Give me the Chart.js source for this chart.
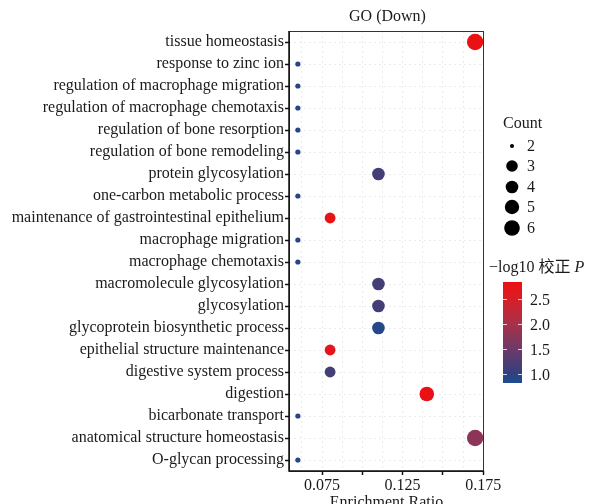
<!DOCTYPE html>
<html>
<head>
<meta charset="utf-8">
<script src="https://cdn.jsdelivr.net/npm/chart.js@4/dist/chart.umd.min.js"></script>
<style>
  html, body { margin: 0; padding: 0; background: #fff; overflow: hidden; }
  #wrap { width: 589px; height: 512px; }
</style>
</head>
<body>
<div id="wrap"><canvas id="goChart" width="589" height="512"></canvas></div>
<script>
// GO terms, top to bottom
const terms = [
  'tissue homeostasis',
  'response to zinc ion',
  'regulation of macrophage migration',
  'regulation of macrophage chemotaxis',
  'regulation of bone resorption',
  'regulation of bone remodeling',
  'protein glycosylation',
  'one-carbon metabolic process',
  'maintenance of gastrointestinal epithelium',
  'macrophage migration',
  'macrophage chemotaxis',
  'macromolecule glycosylation',
  'glycosylation',
  'glycoprotein biosynthetic process',
  'epithelial structure maintenance',
  'digestive system process',
  'digestion',
  'bicarbonate transport',
  'anatomical structure homeostasis',
  'O-glycan processing'
];
const ratios = [0.170, 0.060, 0.060, 0.060, 0.060, 0.060, 0.110, 0.060, 0.080, 0.060,
                0.060, 0.110, 0.110, 0.110, 0.080, 0.080, 0.140, 0.060, 0.170, 0.060];
const counts = [6, 2, 2, 2, 2, 2, 4, 2, 3, 2, 2, 4, 4, 4, 3, 3, 5, 2, 6, 2];
const logP = [2.80, 0.92, 0.92, 0.92, 0.92, 0.92, 1.15, 0.92, 2.75, 0.92,
              0.92, 1.15, 1.15, 0.88, 2.70, 1.15, 2.80, 0.92, 1.75, 0.90];

const xTicks = [0.075, 0.100, 0.125, 0.150, 0.175];
const xLabeled = [0.075, 0.125, 0.175];
const countLevels = [2, 3, 4, 5, 6];
const colorTicks = [1.0, 1.5, 2.0, 2.5];

// styling
const serif = '"Liberation Serif", "DejaVu Serif", "Noto Sans CJK SC", serif';
const textColor = '#1a1a1a';
const fs = 16;
const sizeFor = c => ({2: 2.6, 3: 5.4, 4: 6.3, 5: 7.3, 6: 8.2})[c];
const legendSize = c => ({2: 2.0, 3: 5.8, 4: 6.3, 5: 7.2, 6: 7.8})[c];
const cMin = 0.81, cMax = 2.83;
const stops = [
  [0.81, [29, 76, 143]],
  [1.0, [50, 64, 126]],
  [1.5, [110, 58, 104]],
  [2.0, [170, 48, 72]],
  [2.5, [215, 30, 40]],
  [2.83, [236, 16, 18]]
];
function colorFor(v) {
  v = Math.max(cMin, Math.min(cMax, v));
  for (let i = 1; i < stops.length; i++) {
    if (v <= stops[i][0]) {
      const a = stops[i - 1], b = stops[i];
      const t = (v - a[0]) / (b[0] - a[0]);
      const c = a[1].map((x, k) => Math.round(x + (b[1][k] - x) * t));
      return `rgb(${c[0]},${c[1]},${c[2]})`;
    }
  }
  return 'rgb(236,16,18)';
}

const points = terms.map((t, i) => ({ x: ratios[i], y: t, r: sizeFor(counts[i]) }));

// title, legends, panel border
const extras = {
  id: 'extras',
  afterDatasetsDraw(chart) {
    const ctx = chart.ctx;
    const a = chart.chartArea;
    ctx.save();
    ctx.strokeStyle = '#333';
    ctx.lineWidth = 1;
    ctx.strokeRect(a.left + 0.5, a.top + 0.5, a.right - a.left - 1, a.bottom - a.top);
    ctx.strokeStyle = '#111';
    ctx.lineWidth = 1.5;
    ctx.beginPath();
    ctx.moveTo(a.left, a.top);
    ctx.lineTo(a.left, a.bottom);
    ctx.lineTo(a.right, a.bottom);
    ctx.stroke();
    ctx.restore();
  },
  afterDraw(chart) {
    const ctx = chart.ctx;
    const a = chart.chartArea;
    ctx.save();
    ctx.fillStyle = textColor;
    ctx.font = fs + 'px ' + serif;
    ctx.textBaseline = 'middle';
    ctx.textAlign = 'center';
    ctx.fillText('GO (Down)', (a.left + a.right) / 2 + 1, 17);

    ctx.textAlign = 'left';
    ctx.fillText('Count', 503, 124);
    const ys = [146, 166, 187, 207, 228];
    countLevels.forEach((c, i) => {
      ctx.fillStyle = '#000';
      ctx.beginPath();
      ctx.arc(512, ys[i], legendSize(c), 0, Math.PI * 2);
      ctx.fill();
      ctx.fillStyle = textColor;
      ctx.fillText(String(c), 527, ys[i] + 1);
    });

    // colour bar
    const lead = '\u2212log10 \u6821\u6b63 ';
    ctx.fillText(lead, 489, 268);
    const w = ctx.measureText(lead).width;
    ctx.font = 'italic ' + fs + 'px ' + serif;
    ctx.fillText('P', 489 + w, 268);

    const bx = 503, bw = 19, top = 282, bot = 383;
    const yOf = v => bot - (v - cMin) / (cMax - cMin) * (bot - top);
    for (let y = top; y < bot; y++) {
      const v = cMax - (y - top + 0.5) / (bot - top) * (cMax - cMin);
      ctx.fillStyle = colorFor(v);
      ctx.fillRect(bx, y, bw, 1);
    }
    ctx.strokeStyle = 'rgba(255,255,255,0.8)';
    ctx.lineWidth = 1;
    ctx.font = fs + 'px ' + serif;
    colorTicks.forEach(v => {
      const y = Math.round(yOf(v)) + 0.5;
      ctx.beginPath();
      ctx.moveTo(bx, y); ctx.lineTo(bx + 4, y);
      ctx.moveTo(bx + bw - 4, y); ctx.lineTo(bx + bw, y);
      ctx.stroke();
      ctx.fillStyle = textColor;
      ctx.fillText(v.toFixed(1), 530, y + 1);
    });
    ctx.restore();
  }
};

new Chart(document.getElementById('goChart').getContext('2d'), {
  type: 'bubble',
  data: {
    datasets: [{
      data: points,
      backgroundColor: logP.map(colorFor),
      borderColor: logP.map(colorFor),
      borderWidth: 0,
      hoverRadius: 0
    }]
  },
  options: {
    responsive: false,
    animation: false,
    events: [],
    layout: { padding: { left: 0, right: 105, top: 31, bottom: 0 } },
    plugins: {
      legend: { display: false },
      tooltip: { enabled: false },
      title: { display: false }
    },
    scales: {
      x: {
        type: 'linear',
        min: 0.0545,
        max: 0.1755,
        afterBuildTicks: s => {
          s.ticks = [];
          for (let v = 0.0625; v <= 0.1751; v += 0.0125) s.ticks.push({ value: +v.toFixed(4) });
        },
        afterFit: s => { s.height = 41; },
        ticks: {
          color: textColor,
          font: { family: serif, size: fs },
          padding: 1,
          maxRotation: 0,
          autoSkip: false,
          callback: v => xLabeled.some(t => Math.abs(t - v) < 1e-6) ? v.toFixed(3) : ''
        },
        grid: {
          color: 'rgba(0,0,0,0.08)',
          tickLength: 4,
          tickColor: c => xTicks.some(t => Math.abs(t - c.tick.value) < 1e-6) ? '#111' : 'rgba(0,0,0,0)',
          tickWidth: 1.5
        },
        border: { display: false, dash: [2, 3] },
        title: {
          display: true,
          text: 'Enrichment Ratio',
          color: textColor,
          font: { family: serif, size: fs },
          padding: { top: 0, bottom: 0 }
        }
      },
      y: {
        type: 'category',
        labels: terms,
        offset: true,
        afterFit: s => { s.width = 289; },
        ticks: {
          color: textColor,
          font: { family: serif, size: fs },
          padding: 1,
          autoSkip: false
        },
        grid: {
          color: 'rgba(0,0,0,0.08)',
          tickLength: 4,
          tickColor: '#111',
          tickWidth: 1.5
        },
        border: { display: false, dash: [2, 3] }
      }
    }
  },
  plugins: [extras]
});
</script>
</body>
</html>
